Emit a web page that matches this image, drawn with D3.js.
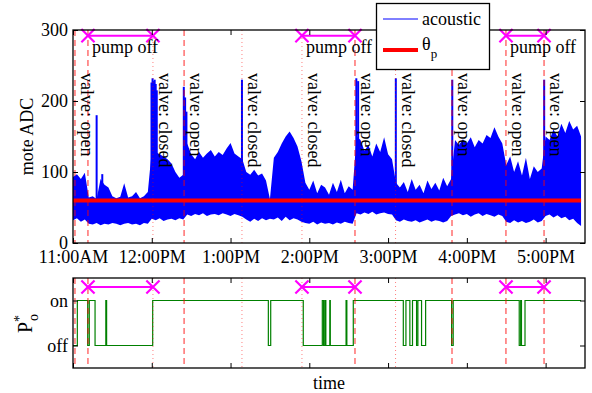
<!DOCTYPE html>
<html>
<head>
<meta charset="utf-8">
<script src="https://cdn.jsdelivr.net/npm/d3@7"></script>
<style>
  body { margin: 0; background: #fff; }
  svg text { font-family: "Liberation Serif", "Times New Roman", serif; }
</style>
</head>
<body>
<div id="chart"></div>
<script>
// minutes after 11:00AM
var tickMinutes = [0, 60, 120, 180, 240, 300, 360];
var tickLabels = ["11:00AM", "12:00PM", "1:00PM", "2:00PM", "3:00PM", "4:00PM", "5:00PM"];
var adcTicks = [0, 100, 200, 300];
var pTicks = [0, 1];
var pTickLabels = ["off", "on"];

var valveMinutes = [1.5, 11.4, 60.9, 84.6, 128.7, 174.4, 214.8, 245.7, 288.7, 329.8, 358.8];
var valveStates = ["open", "open", "closed", "open", "closed", "closed", "open", "closed", "open", "open", "open"];
var valveLabels = ["valve: open", "", "valve: closed", "valve: open", "valve: closed", "valve: closed",
  "valve: open", "valve: closed", "valve: open", "valve: open", "valve: open"];

var pumpOffStart = [11.4, 174.4, 329.8];
var pumpOffEnd = [60.9, 214.8, 358.8];

var thetaP = 60;

// acoustic signal envelope, one sample every 3 minutes
var acousticStep = 3;
var acousticHigh = [93, 97, 90, 99, 64, 66, 62, 90, 82, 78, 66, 63, 65, 84, 64, 66, 72, 63, 66, 72,
  130, 128, 125, 122, 118, 112, 100, 92, 96, 140, 125, 118, 128, 120, 126, 131, 122, 128, 124, 133,
  141, 126, 122, 118, 100, 96, 103, 95, 98, 88, 62, 120, 128, 140, 150, 157, 148, 136, 115, 85,
  75, 88, 70, 82, 78, 68, 85, 72, 89, 70, 80, 75, 150, 145, 130, 138, 122, 140, 128, 149,
  125, 118, 85, 78, 86, 72, 90, 75, 82, 70, 88, 76, 85, 74, 92, 80, 90, 145, 138, 146,
  140, 149, 135, 145, 140, 152, 148, 163, 150, 140, 110, 122, 100, 115, 95, 120, 90, 108, 100, 105,
  150, 145, 160, 150, 168, 155, 172, 160, 165, 150];
var acousticLow = [32, 35, 30, 33,
  27, 26, 28, 25, 27, 26, 28, 27, 25, 27, 28, 26, 27, 25, 28, 27,
  34, 32, 35, 31, 33, 34, 32, 35, 33,
  40, 38, 41, 39, 42, 38, 40, 41, 39, 42, 40, 38, 41, 39, 37,
  33, 30, 34, 31, 35, 32, 34,
  33, 36, 31, 37, 32, 35, 33, 30,
  28, 27, 30, 26, 29, 27, 28, 26, 29, 27, 30, 28, 27,
  42, 40, 43, 41, 44, 40, 42, 43, 41, 40,
  32, 30, 33, 31, 30, 32, 29, 31, 33, 30, 32, 31, 29, 31,
  38, 40, 42, 39, 41, 37, 40, 42, 38, 41, 39, 37, 40, 38,
  30, 28, 32, 29, 31, 28, 30, 33, 29, 31,
  38, 40, 36, 39, 35, 37, 32, 34, 28, 24];
var acousticPeakMinutes = [18, 22.3, 59.8, 60.6, 61.4, 62.2, 63.0, 63.8, 84.4, 85.4, 86.4,
  128.7, 215.8, 217.2, 245.9, 288.9, 358.9];
var acousticPeakValues = [180, 97, 226, 232, 228, 230, 224, 215, 220, 205, 185,
  230, 232, 228, 232, 230, 230];

// P*_o : intervals where the state is "off"
var pOffStart = [0, 11.2, 16.8, 25.6, 148.8, 175.4, 190.9, 192.6, 196.0, 208.6,
  251.6, 256.6, 261.7, 265.5, 288.4, 339.9, 341.6];
var pOffEnd = [3.3, 12.4, 25.0, 60.7, 150.6, 189.9, 191.9, 195.6, 208.0, 213.5,
  253.6, 258.6, 262.7, 268.6, 289.6, 341.0, 344.3];
var dataEnd = 387;

drawChart();

function drawChart() {
  var svgWidth = 592, svgHeight = 393;
  var left = 73, right = 585;
  var top1 = 30, bottom1 = 243;
  var top2 = 278, bottom2 = 368;

  var svg = d3.select("#chart").append("svg")
    .attr("width", svgWidth)
    .attr("height", svgHeight);

  var x = d3.scaleLinear().domain([0, 390]).range([left, right]);
  var y = d3.scaleLinear().domain([0, 300]).range([bottom1, top1]);
  var yp = d3.scaleLinear().domain([-0.5, 1.5]).range([bottom2, top2]);

  var acoustic = acousticHigh.map(function (h, i) {
    return { t: i * acousticStep, hi: h, lo: acousticLow[i] };
  });

  // acoustic envelope
  var area = d3.area()
    .x(function (d) { return x(d.t); })
    .y0(function (d) { return y(d.lo); })
    .y1(function (d) { return y(d.hi); });
  svg.append("path")
    .attr("d", area(acoustic))
    .attr("fill", "#0000ff");

  svg.selectAll(".peak")
    .data(acousticPeakMinutes)
    .enter().append("line")
    .attr("class", "peak")
    .attr("x1", function (d) { return x(d); })
    .attr("x2", function (d) { return x(d); })
    .attr("y1", y(thetaP))
    .attr("y2", function (d, i) { return y(acousticPeakValues[i]); })
    .attr("stroke", "#0000ff")
    .attr("stroke-width", 2);

  // theta_p threshold
  svg.append("line")
    .attr("x1", x(0)).attr("x2", x(dataEnd))
    .attr("y1", y(thetaP)).attr("y2", y(thetaP))
    .attr("stroke", "#ff0000")
    .attr("stroke-width", 4);

  // P*_o step line
  var pts = [];
  if (pOffStart[0] > 0) pts.push([0, 1]);
  pOffStart.forEach(function (s, i) {
    pts.push([s, 0]);
    pts.push([pOffEnd[i], 1]);
  });
  pts.push([dataEnd, 1]);
  var stepLine = d3.line()
    .x(function (d) { return x(d[0]); })
    .y(function (d) { return yp(d[1]); })
    .curve(d3.curveStepAfter);
  svg.append("path")
    .attr("d", stepLine(pts))
    .attr("fill", "none")
    .attr("stroke", "#008000")
    .attr("stroke-width", 1.2);

  // valve events, both panels
  [[top1, bottom1], [top2, bottom2]].forEach(function (r) {
    svg.selectAll(null)
      .data(valveMinutes)
      .enter().append("line")
      .attr("x1", function (d) { return x(d); })
      .attr("x2", function (d) { return x(d); })
      .attr("y1", r[0]).attr("y2", r[1])
      .attr("stroke", "#ff0000")
      .attr("stroke-opacity", function (d, i) { return valveStates[i] == "open" ? 0.85 : 0.5; })
      .attr("stroke-width", 1)
      .attr("stroke-dasharray", function (d, i) { return valveStates[i] == "open" ? "6,4" : "1,3"; });
  });

  svg.selectAll(".vlabel")
    .data(valveMinutes)
    .enter().append("text")
    .attr("class", "vlabel")
    .attr("transform", function (d) { return "translate(" + (x(d) + 6) + "," + (top1 + 43) + ") rotate(90)"; })
    .attr("font-size", "18px")
    .attr("fill", "#000")
    .text(function (d, i) { return valveLabels[i]; });

  // pump off intervals
  var xSym = d3.symbol().type(d3.symbolX).size(115);
  [[292, true], [1.3, false]].forEach(function (p) {
    var yy = p[1] ? y(p[0]) : yp(p[0]);
    pumpOffStart.forEach(function (s, i) {
      var e = pumpOffEnd[i];
      svg.append("line")
        .attr("x1", x(s)).attr("x2", x(e))
        .attr("y1", yy).attr("y2", yy)
        .attr("stroke", "#ff00ff").attr("stroke-width", 2);
      [s, e].forEach(function (t) {
        svg.append("path")
          .attr("d", xSym())
          .attr("transform", "translate(" + x(t) + "," + yy + ")")
          .attr("fill", "none")
          .attr("stroke", "#ff00ff")
          .attr("stroke-width", 2.2);
      });
      if (p[1]) {
        svg.append("text")
          .attr("x", x(s) + 4)
          .attr("y", yy + 17)
          .attr("font-size", "18px")
          .text("pump off");
      }
    });
  });

  // axes - top panel
  var g1 = svg.append("g");
  g1.append("g")
    .attr("transform", "translate(0," + bottom1 + ")")
    .call(d3.axisBottom(x).tickValues(tickMinutes)
      .tickFormat(function (d, i) { return tickLabels[i]; })
      .tickSizeInner(-5).tickSizeOuter(0).tickPadding(7));
  g1.append("g")
    .attr("transform", "translate(0," + top1 + ")")
    .call(d3.axisTop(x).tickValues(tickMinutes).tickFormat("").tickSizeInner(-5).tickSizeOuter(0));
  g1.append("g")
    .attr("transform", "translate(" + left + ",0)")
    .call(d3.axisLeft(y).tickValues(adcTicks).tickSizeInner(-5).tickSizeOuter(0).tickPadding(5));
  g1.append("g")
    .attr("transform", "translate(" + right + ",0)")
    .call(d3.axisRight(y).tickValues(adcTicks).tickFormat("").tickSizeInner(-5).tickSizeOuter(0));

  // axes - bottom panel
  var g2 = svg.append("g");
  g2.append("g")
    .attr("transform", "translate(0," + bottom2 + ")")
    .call(d3.axisBottom(x).tickValues(tickMinutes).tickFormat("").tickSizeInner(-5).tickSizeOuter(0));
  g2.append("g")
    .attr("transform", "translate(0," + top2 + ")")
    .call(d3.axisTop(x).tickValues(tickMinutes).tickFormat("").tickSizeInner(-5).tickSizeOuter(0));
  g2.append("g")
    .attr("transform", "translate(" + left + ",0)")
    .call(d3.axisLeft(yp).tickValues(pTicks)
      .tickFormat(function (d, i) { return pTickLabels[i]; })
      .tickSizeInner(-5).tickSizeOuter(0).tickPadding(5));
  g2.append("g")
    .attr("transform", "translate(" + right + ",0)")
    .call(d3.axisRight(yp).tickValues(pTicks).tickFormat("").tickSizeInner(-5).tickSizeOuter(0));

  svg.selectAll(".tick text")
    .attr("font-family", "Liberation Serif, Times New Roman, serif")
    .attr("font-size", "18px")
    .attr("fill", "#000");
  svg.selectAll(".domain").remove();
  svg.selectAll(".tick line").attr("stroke", "#000");

  [[top1, bottom1], [top2, bottom2]].forEach(function (r) {
    svg.append("rect")
      .attr("x", left).attr("y", r[0])
      .attr("width", right - left).attr("height", r[1] - r[0])
      .attr("fill", "none")
      .attr("stroke", "#000")
      .attr("stroke-width", 1.3);
  });

  // axis titles
  svg.append("text")
    .attr("transform", "translate(33," + ((top1 + bottom1) / 2) + ") rotate(-90)")
    .attr("text-anchor", "middle")
    .attr("font-size", "18px")
    .text("mote ADC");

  var pl = svg.append("text")
    .attr("transform", "translate(32," + ((top2 + bottom2) / 2 + 10) + ") rotate(-90)")
    .attr("font-size", "20px");
  pl.append("tspan").text("P");
  pl.append("tspan").attr("font-size", "14px").attr("dy", -8).text("*");
  pl.append("tspan").attr("font-size", "14px").attr("dx", -6).attr("dy", 14).text("o");

  svg.append("text")
    .attr("x", (left + right) / 2)
    .attr("y", 389)
    .attr("text-anchor", "middle")
    .attr("font-size", "18px")
    .text("time");

  // legend
  var lg = svg.append("g").attr("transform", "translate(376,3)");
  lg.append("rect")
    .attr("x", 0.5).attr("y", 0.5)
    .attr("width", 113).attr("height", 66)
    .attr("fill", "#fff").attr("stroke", "#000").attr("stroke-width", 1.3);
  lg.append("line")
    .attr("x1", 7).attr("x2", 42).attr("y1", 16).attr("y2", 16)
    .attr("stroke", "#0000ff").attr("stroke-width", 1);
  lg.append("text").attr("x", 46).attr("y", 22).attr("font-size", "18px").text("acoustic");
  lg.append("line")
    .attr("x1", 7).attr("x2", 42).attr("y1", 47).attr("y2", 47)
    .attr("stroke", "#ff0000").attr("stroke-width", 4);
  var th = lg.append("text").attr("x", 46).attr("y", 47).attr("font-size", "18px");
  th.append("tspan").text("θ");
  th.append("tspan").attr("font-size", "13px").attr("dy", 8).text("p");
}
</script>
</body>
</html>
